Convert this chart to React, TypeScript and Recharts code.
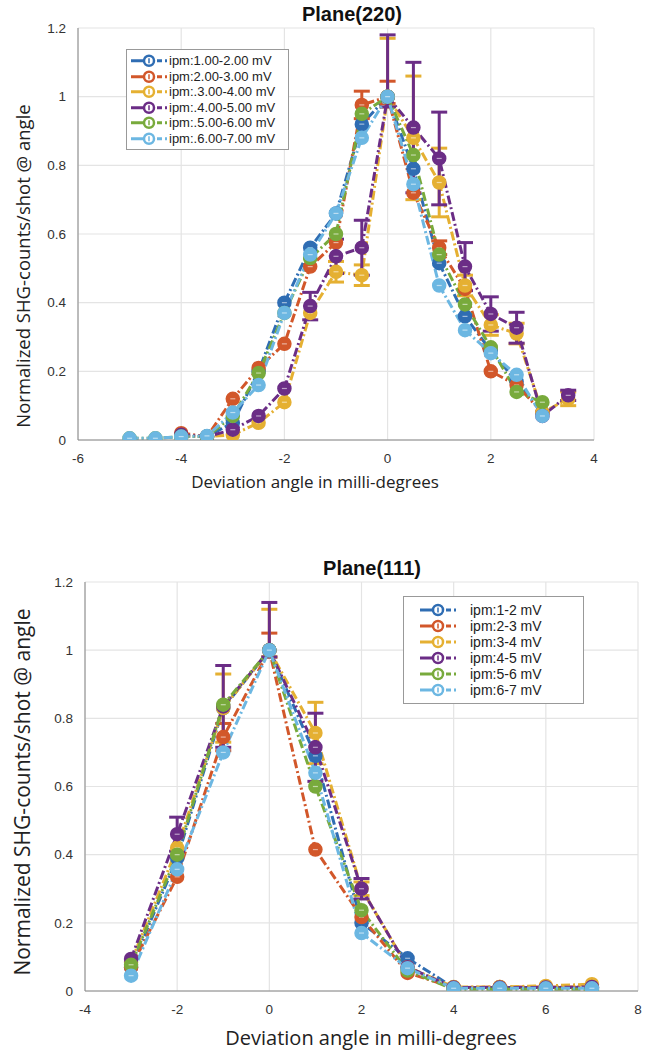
import { LineChart, Line, XAxis, YAxis, CartesianGrid, ErrorBar } from "recharts";

// Plane(220)
const topAngles = [-5, -4.5, -4, -3.5, -3, -2.5, -2, -1.5, -1, -0.5, 0, 0.5, 1, 1.5, 2, 2.5, 3, 3.5];
const top12 = [null, null, 0.01, 0.01, 0.05, 0.2, 0.4, 0.56, 0.66, 0.92, 1.0, 0.79, 0.515, 0.36, 0.26, 0.17, 0.08, null];
const top23 = [null, null, 0.02, 0.01, 0.12, 0.21, 0.28, 0.505, 0.575, 0.976, 1.0, 0.72, 0.56, 0.44, 0.2, 0.16, 0.08, null];
const top34 = [null, null, 0.01, 0.01, 0.015, 0.05, 0.11, 0.37, 0.49, 0.48, 1.0, 0.88, 0.75, 0.45, 0.335, 0.31, 0.08, 0.12];
const top45 = [null, null, 0.015, 0.01, 0.03, 0.07, 0.15, 0.39, 0.535, 0.56, 1.0, 0.91, 0.82, 0.505, 0.367, 0.327, 0.07, 0.13];
const top56 = [0.005, 0.005, 0.01, 0.01, 0.07, 0.195, 0.37, 0.53, 0.6, 0.95, 1.0, 0.83, 0.54, 0.395, 0.27, 0.14, 0.11, null];
const top67 = [0.005, 0.005, 0.01, 0.012, 0.08, 0.16, 0.37, 0.54, 0.66, 0.88, 1.0, 0.745, 0.45, 0.32, 0.253, 0.19, 0.07, null];
const topErr23 = [null, null, 0, 0, 0, 0, 0, 0, 0, 0.04, [0.02, 0.045], 0, 0.02, 0, 0, 0, 0, null];
const topErr34 = [null, null, 0, 0, 0, 0, 0, 0, 0.03, 0.03, [0.03, 0.17], 0.18, 0.1, 0.03, 0.03, 0.03, 0, 0.02];
const topErr45 = [null, null, 0, 0, 0, 0, 0, 0.04, 0.05, 0.08, [0.03, 0.18], 0.19, 0.135, 0.07, 0.05, 0.045, 0, 0.015];

// Plane(111)
const botAngles = [-3, -2, -1, 0, 1, 2, 3, 4, 5, 6, 7];
const bot12 = [0.07, 0.39, 0.83, 1.0, 0.69, 0.2, 0.096, 0.01, 0.01, 0.01, 0.01];
const bot23 = [0.07, 0.335, 0.745, 1.0, 0.415, 0.217, 0.053, 0.01, 0.012, 0.012, 0.012];
const bot34 = [0.085, 0.42, 0.83, 1.0, 0.757, 0.3, 0.07, 0.012, 0.012, 0.015, 0.02];
const bot45 = [0.094, 0.46, 0.835, 1.0, 0.715, 0.3, 0.07, 0.01, 0.01, 0.01, 0.012];
const bot56 = [0.077, 0.4, 0.84, 1.0, 0.6, 0.237, 0.06, 0.005, 0.005, 0.005, 0.005];
const bot67 = [0.045, 0.357, 0.7, 1.0, 0.64, 0.17, 0.067, 0.008, 0.008, 0.008, 0.008];
const botErr23 = [0, 0, 0.04, [0.02, 0.05], 0, 0, 0, 0, 0, 0, 0];
const botErr34 = [0, 0, 0.1, [0.02, 0.12], 0.09, 0.02, 0, 0, 0, 0, 0];
const botErr45 = [0, 0.05, 0.12, [0.02, 0.14], 0.1, 0.03, 0, 0, 0, 0, 0];

const yTicks = [0, 0.2, 0.4, 0.6, 0.8, 1, 1.2];
const topXTicks = [-6, -4, -2, 0, 2, 4];
const botXTicks = [-4, -2, 0, 2, 4, 6, 8];

const topNames = ["ipm:1.00-2.00 mV", "ipm:2.00-3.00 mV", "ipm:.3.00-4.00 mV", "ipm:.4.00-5.00 mV", "ipm:.5.00-6.00 mV", "ipm:.6.00-7.00 mV"];
const botNames = ["ipm:1-2 mV", "ipm:2-3 mV", "ipm:3-4 mV", "ipm:4-5 mV", "ipm:5-6 mV", "ipm:6-7 mV"];
const colors = ["#2f6db3", "#d2572a", "#e5b032", "#6b2d86", "#78aa3c", "#6cb7e2"];

const keys = ["s12", "s23", "s34", "s45", "s56", "s67"];

const topData = topAngles.map((x, i) => ({
  x,
  s12: top12[i], s23: top23[i], s34: top34[i], s45: top45[i], s56: top56[i], s67: top67[i],
  e23: topErr23[i], e34: topErr34[i], e45: topErr45[i],
}));

const botData = botAngles.map((x, i) => ({
  x,
  s12: bot12[i], s23: bot23[i], s34: bot34[i], s45: bot45[i], s56: bot56[i], s67: bot67[i],
  e23: botErr23[i], e34: botErr34[i], e45: botErr45[i],
}));

const errKeys: Record<string, string> = { s23: "e23", s34: "e34", s45: "e45" };

const DASH = "9 3 2 3";

const makeDot = (color: string) => (props: any) => {
  const { cx, cy, value, index } = props;
  if (cx == null || cy == null || value == null) return <g key={index} />;
  return (
    <g key={index}>
      <circle cx={cx} cy={cy} r={6.5} fill={color} stroke={color} strokeWidth={1.5} />
      <line x1={cx - 2.5} x2={cx + 2.5} y1={cy} y2={cy} stroke="#fff" strokeOpacity={0.55} strokeWidth={1.2} />
    </g>
  );
};

const tickStyle = { fill: "#333", fontSize: 13.5, fontFamily: "Liberation Sans, Arial, sans-serif" };

function Series() {
  return keys.map((k, i) => (
    <Line
      key={k}
      dataKey={k}
      stroke={colors[i]}
      strokeWidth={3}
      strokeDasharray={DASH}
      dot={makeDot(colors[i])}
      activeDot={false}
      isAnimationActive={false}
      connectNulls={false}
    >
      {errKeys[k] && (
        <ErrorBar dataKey={errKeys[k]} direction="y" width={8} stroke={colors[i]} strokeWidth={3} />
      )}
    </Line>
  ));
}

function LegendBox({ names, left, top, width, rowH, fontSize, font, textGap, iconLeft, pad }: any) {
  return (
    <div
      style={{
        position: "absolute", left, top, width, background: "#fff",
        border: "1px solid #999", padding: `${pad}px 0`, boxSizing: "border-box",
      }}
    >
      {names.map((n: string, i: number) => (
        <div key={n} style={{ display: "flex", alignItems: "center", height: rowH }}>
          <svg width={40} height={rowH} style={{ marginLeft: iconLeft, flex: "none" }}>
            <line x1={2} x2={20} y1={rowH / 2} y2={rowH / 2} stroke={colors[i]} strokeWidth={3} />
            <line x1={20} x2={38} y1={rowH / 2} y2={rowH / 2} stroke={colors[i]} strokeWidth={3} strokeDasharray="5 3" />
            <circle cx={20} cy={rowH / 2} r={5} fill="#fff" stroke={colors[i]} strokeWidth={2.5} />
            <line x1={20} x2={20} y1={rowH / 2 - 2.5} y2={rowH / 2 + 2.5} stroke={colors[i]} strokeWidth={1.5} />
          </svg>
          <span style={{ marginLeft: textGap, fontSize, lineHeight: `${rowH}px`, fontFamily: font, color: "#222", whiteSpace: "nowrap" }}>{n}</span>
        </div>
      ))}
    </div>
  );
}

const labelFont = "'Open Sans', sans-serif";
const helv = "Liberation Sans, Arial, sans-serif";

export default function App() {
  return (
    <div style={{ position: "absolute", left: 0, top: 0, width: 647, height: 1053, background: "#fff" }}>
      {/* Plane(220) */}
      <div style={{ position: "absolute", left: 0, top: 0 }}>
        <LineChart width={647} height={500} data={topData} margin={{ top: 28, right: 53, bottom: 30, left: 38 }}>
          <CartesianGrid stroke="#e4e4e4" strokeWidth={1.2} />
          <XAxis
            type="number" dataKey="x" domain={[-6, 4]} ticks={topXTicks} height={30}
            stroke="#888" tickLine={false} tick={tickStyle} tickMargin={7} allowDataOverflow
          />
          <YAxis
            type="number" domain={[0, 1.2]} ticks={yTicks} width={40}
            stroke="#888" tickLine={false} tick={tickStyle} tickMargin={6} allowDataOverflow
          />
          {Series()}
        </LineChart>
      </div>
      <div style={{ position: "absolute", left: 352, top: 14, transform: "translate(-50%,-50%)", fontFamily: helv, fontWeight: 700, fontSize: 20, color: "#111", whiteSpace: "nowrap" }}>
        Plane(220)
      </div>
      <div style={{ position: "absolute", left: 315, top: 481, transform: "translate(-50%,-50%)", fontFamily: labelFont, fontSize: 17, color: "#222", whiteSpace: "nowrap" }}>
        Deviation angle in milli-degrees
      </div>
      <div style={{ position: "absolute", left: 22, top: 266, transform: "translate(-50%,-50%) rotate(-90deg)", fontFamily: labelFont, fontSize: 18.5, color: "#222", whiteSpace: "nowrap" }}>
        Normalized SHG-counts/shot @ angle
      </div>
      <LegendBox names={topNames} left={126} top={49} width={163} rowH={15.5} fontSize={13} font={helv} textGap={0} iconLeft={2} pad={3} />

      {/* Plane(111) */}
      <div style={{ position: "absolute", left: 0, top: 550 }}>
        <LineChart width={647} height={500} data={botData} margin={{ top: 32, right: 9, bottom: 29, left: 45 }}>
          <CartesianGrid stroke="#e4e4e4" strokeWidth={1.2} />
          <XAxis
            type="number" dataKey="x" domain={[-4, 8]} ticks={botXTicks} height={30}
            stroke="#888" tickLine={false} tick={tickStyle} tickMargin={7} allowDataOverflow
          />
          <YAxis
            type="number" domain={[0, 1.2]} ticks={yTicks} width={40}
            stroke="#888" tickLine={false} tick={tickStyle} tickMargin={6} allowDataOverflow
          />
          {Series()}
        </LineChart>
      </div>
      <div style={{ position: "absolute", left: 372, top: 568, transform: "translate(-50%,-50%)", fontFamily: helv, fontWeight: 700, fontSize: 20, color: "#111", whiteSpace: "nowrap" }}>
        Plane(111)
      </div>
      <div style={{ position: "absolute", left: 371, top: 1037, transform: "translate(-50%,-50%)", fontFamily: labelFont, fontSize: 20, color: "#222", whiteSpace: "nowrap" }}>
        Deviation angle in milli-degrees
      </div>
      <div style={{ position: "absolute", left: 22, top: 792, transform: "translate(-50%,-50%) rotate(-90deg)", fontFamily: labelFont, fontSize: 21, color: "#222", whiteSpace: "nowrap" }}>
        Normalized SHG-counts/shot @ angle
      </div>
      <LegendBox names={botNames} left={403} top={596} width={181} rowH={16} fontSize={14} font={helv} textGap={12} iconLeft={14} pad={5} />
    </div>
  );
}
